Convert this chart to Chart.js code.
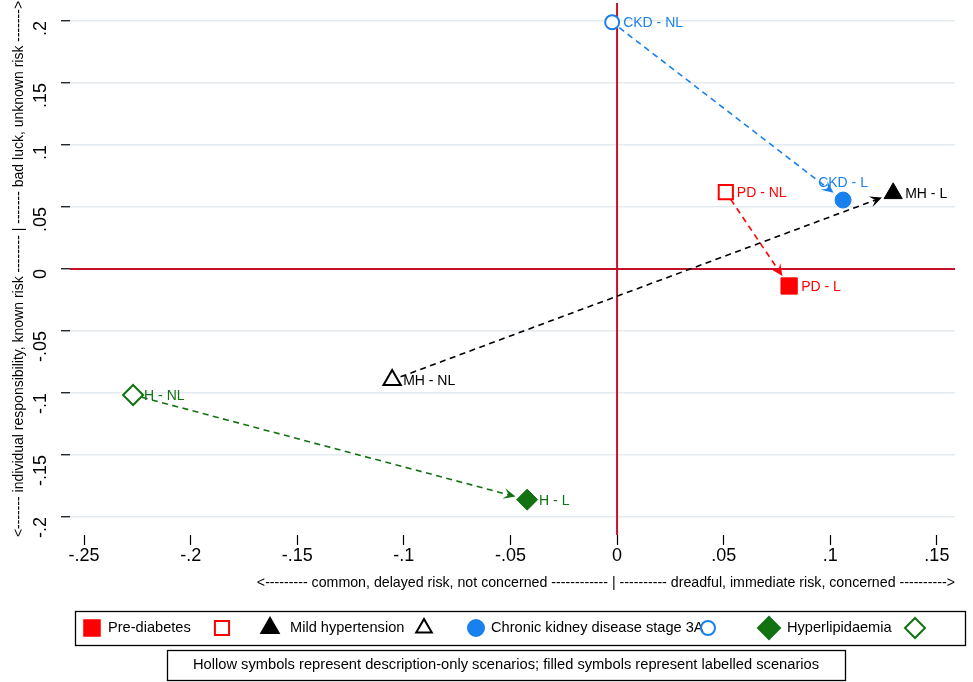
<!DOCTYPE html>
<html>
<head>
<meta charset="utf-8">
<script src="https://cdn.jsdelivr.net/npm/chart.js@4.4.0/dist/chart.umd.min.js"></script>
<style>
  html, body { margin: 0; padding: 0; background: #fff; }
  #wrap { width: 973px; height: 682px; }
</style>
</head>
<body>
<div id="wrap"><canvas id="chart"></canvas></div>
<script>
// datos
const scenarios = ['Pre-diabetes', 'Mild hypertension', 'Chronic kidney disease stage 3A', 'Hyperlipidaemia'];
const codes = ['PD', 'MH', 'CKD', 'H'];
const nlX = [0.051, -0.1055, -0.0023, -0.227];
const nlY = [0.062, -0.0895, 0.199, -0.1016];
const lX = [0.0807, 0.1295, 0.106, -0.0422];
const lY = [-0.0137, 0.061, 0.0556, -0.186];
const xTicks = [-0.25, -0.2, -0.15, -0.1, -0.05, 0, 0.05, 0.1, 0.15];
const yTicks = [-0.2, -0.15, -0.1, -0.05, 0, 0.05, 0.1, 0.15, 0.2];

const colors = ['#ff0000', '#000000', '#1a80ee', '#127212'];
const shapes = ['rect', 'triangle', 'circle', 'rectRot'];
const filledR = [11.5, 10.5, 8, 10.5];
const hollowR = [10, 10, 7, 10];

const xTitle = '<--------- common, delayed risk, not concerned ------------ | ---------- dreadful, immediate risk, concerned ---------->';
const yTitle = '<------- individual responsibility, known risk -------- | ------- bad luck, unknown risk ------->';
const note = 'Hollow symbols represent description-only scenarios; filled symbols represent labelled scenarios';

function fmt(v) {
    if (Math.abs(v) < 1e-9) return '0';
    return String(+v.toFixed(2)).replace(/^(-?)0\./, '$1.');
}

const datasets = [];
codes.forEach((c, i) => {
    datasets.push({
        label: c + ' - NL',
        data: [{ x: nlX[i], y: nlY[i] }],
        pointStyle: shapes[i],
        pointRadius: hollowR[i],
        backgroundColor: '#ffffff',
        borderColor: colors[i],
        borderWidth: 2
    });
    datasets.push({
        label: c + ' - L',
        data: [{ x: lX[i], y: lY[i] }],
        pointStyle: shapes[i],
        pointRadius: filledR[i],
        backgroundColor: colors[i],
        borderColor: colors[i],
        borderWidth: 1
    });
});

function drawArrow(ctx, x1, y1, x2, y2, color) {
    const ang = Math.atan2(y2 - y1, x2 - x1);
    const cos = Math.cos(ang), sin = Math.sin(ang);
    const sx = x1 + cos * 9, sy = y1 + sin * 9;
    const ex = x2 - cos * 12, ey = y2 - sin * 12;
    ctx.save();
    ctx.strokeStyle = color;
    ctx.fillStyle = color;
    ctx.lineWidth = 1.6;
    ctx.setLineDash([6, 4.5]);
    ctx.beginPath();
    ctx.moveTo(sx, sy);
    ctx.lineTo(ex - cos * 6, ey - sin * 6);
    ctx.stroke();
    ctx.setLineDash([]);
    // punta de flecha
    ctx.beginPath();
    ctx.moveTo(ex, ey);
    ctx.lineTo(ex - cos * 12 - sin * 5.5, ey - sin * 12 + cos * 5.5);
    ctx.lineTo(ex - cos * 7, ey - sin * 7);
    ctx.lineTo(ex - cos * 12 + sin * 5.5, ey - sin * 12 - cos * 5.5);
    ctx.closePath();
    ctx.fill();
    ctx.restore();
}

function drawSymbol(ctx, shape, x, y, r, color, filled) {
    ctx.save();
    ctx.lineWidth = 2;
    ctx.strokeStyle = color;
    ctx.fillStyle = filled ? color : 'rgba(255,255,255,0)';
    Chart.helpers.drawPoint(ctx, { pointStyle: shape, radius: r, borderWidth: 2 }, x, y);
    ctx.restore();
}

const overlay = {
    id: 'overlay',
    beforeDatasetsDraw(chart) {
        const { ctx, chartArea: a, scales: { x, y } } = chart;
        ctx.save();
        ctx.strokeStyle = '#c4122c';
        ctx.lineWidth = 2;
        const x0 = x.getPixelForValue(0), y0 = y.getPixelForValue(0);
        ctx.beginPath();
        ctx.moveTo(x0, a.top); ctx.lineTo(x0, a.bottom);
        ctx.moveTo(a.left, y0); ctx.lineTo(a.right, y0);
        ctx.stroke();
        ctx.restore();
        codes.forEach((c, i) => {
            drawArrow(ctx,
                x.getPixelForValue(nlX[i]), y.getPixelForValue(nlY[i]),
                x.getPixelForValue(lX[i]), y.getPixelForValue(lY[i]), colors[i]);
        });
    },
    afterDatasetsDraw(chart) {
        const { ctx, scales: { x, y } } = chart;
        ctx.save();
        ctx.font = '14px "Liberation Sans", Arial, sans-serif';
        ctx.textBaseline = 'middle';
        codes.forEach((c, i) => {
            ctx.fillStyle = colors[i];
            ctx.textAlign = 'left';
            ctx.fillText(c + ' - NL', x.getPixelForValue(nlX[i]) + 11, y.getPixelForValue(nlY[i]) + 1);
            const px = x.getPixelForValue(lX[i]), py = y.getPixelForValue(lY[i]);
            if (c === 'CKD') {
                ctx.textAlign = 'center';
                ctx.fillText(c + ' - L', px, py - 17);
            } else {
                ctx.fillText(c + ' - L', px + 12, py + 1);
            }
        });
        ctx.restore();
    },
    afterDraw(chart) {
        const ctx = chart.ctx;
        ctx.save();
        // caja de leyenda
        ctx.strokeStyle = '#000';
        ctx.lineWidth = 1.3;
        ctx.strokeRect(75.5, 611.5, 890, 34);
        const filledX = [92, 270, 476, 769];
        const textX = [108, 290, 491, 787];
        const hollowX = [222, 424, 708, 915];
        const legR = [11, 10, 8, 11];
        ctx.font = '14.6px "Liberation Sans Narrow", "Liberation Sans", Arial, sans-serif';
        ctx.textBaseline = 'middle';
        ctx.textAlign = 'left';
        scenarios.forEach((s, i) => {
            drawSymbol(ctx, shapes[i], filledX[i], 628, legR[i], colors[i], true);
            ctx.fillStyle = '#000';
            ctx.fillText(s, textX[i], 628);
            drawSymbol(ctx, shapes[i], hollowX[i], 628, legR[i] - 1, colors[i], false);
        });
        // nota
        ctx.strokeRect(167.5, 650.5, 678, 30);
        ctx.fillStyle = '#000';
        ctx.textAlign = 'center';
        ctx.font = '14.7px "Liberation Sans Narrow", "Liberation Sans", Arial, sans-serif';
        ctx.fillText(note, 506, 665);
        ctx.restore();
    }
};

new Chart(document.getElementById('chart'), {
    type: 'scatter',
    data: { datasets: datasets },
    options: {
        responsive: true,
        maintainAspectRatio: false,
        animation: false,
        layout: { autoPadding: false, padding: { top: 3, right: 18, bottom: 90, left: 0 } },
        plugins: { legend: { display: false }, tooltip: { enabled: false } },
        scales: {
            x: {
                min: -0.2566,
                max: 0.1585,
                afterBuildTicks: (s) => { s.ticks = xTicks.map(v => ({ value: v })); },
                afterFit: (s) => { s.height = 57; s.paddingLeft = 0; s.paddingRight = 0; },
                border: { display: false },
                grid: { drawOnChartArea: false, drawTicks: true, tickLength: 10, tickColor: '#000', tickWidth: 1.2 },
                ticks: {
                    callback: (v) => fmt(v),
                    color: '#000',
                    padding: 0,
                    maxRotation: 0,
                    font: { family: '"Liberation Sans", Arial, sans-serif', size: 18 }
                },
                title: {
                    display: true,
                    text: xTitle,
                    align: 'end',
                    color: '#000',
                    padding: { top: 2, bottom: 0 },
                    font: { family: '"Liberation Sans Narrow", "Liberation Sans", Arial, sans-serif', size: 14.2 }
                }
            },
            y: {
                min: -0.2145,
                max: 0.2145,
                afterBuildTicks: (s) => { s.ticks = yTicks.map(v => ({ value: v })); },
                afterFit: (s) => { s.width = 70; s.paddingTop = 0; s.paddingBottom = 0; },
                border: { display: false },
                grid: { color: '#e3ebf0', lineWidth: 1.5, drawTicks: true, tickLength: 9, tickColor: '#000', tickWidth: 1.2 },
                ticks: {
                    callback: (v) => fmt(v),
                    color: '#000',
                    padding: 20,
                    minRotation: 90,
                    maxRotation: 90,
                    font: { family: '"Liberation Sans", Arial, sans-serif', size: 18 }
                },
                title: {
                    display: true,
                    text: yTitle,
                    color: '#000',
                    padding: { top: 11, bottom: 0 },
                    font: { family: '"Liberation Sans Narrow", "Liberation Sans", Arial, sans-serif', size: 14 }
                }
            }
        }
    },
    plugins: [overlay]
});
</script>
</body>
</html>
